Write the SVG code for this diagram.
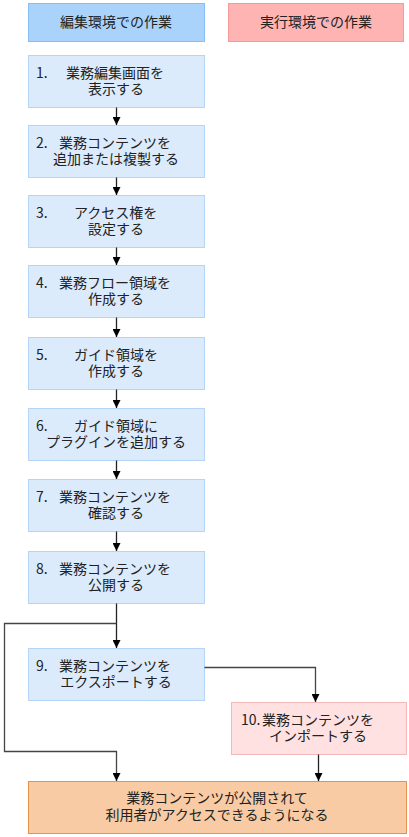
<svg xmlns="http://www.w3.org/2000/svg" width="409" height="837" viewBox="0 0 409 837">
<defs>
<style>
text{font-family:"Noto Sans CJK JP","Noto Sans",sans-serif;font-size:14px;fill:#222}
.c{text-anchor:middle}
.s{text-anchor:start}
.hl{fill:#aad3fc;stroke:#86bdf3;stroke-width:1}
.hr{fill:#ffb4b4;stroke:#f29999;stroke-width:1}
.n{fill:#dcebfc;stroke:#b4d5f6;stroke-width:1}
.p{fill:#ffe1e1;stroke:#f6b9b9;stroke-width:1}
.f{fill:#f9cba5;stroke:#e4924d;stroke-width:1}
.l{fill:none;stroke:#222;stroke-width:1.3}
.g{fill:none;stroke:#444;stroke-width:1.3}
</style>
<marker id="a" viewBox="0 0 10 10" refX="10" refY="5" markerWidth="8" markerHeight="8" markerUnits="userSpaceOnUse" orient="auto">
<path d="M0,0L10,5L0,10z" fill="#000"/>
</marker>
</defs>
<g id="header-edit"><rect class="hl" x="28.5" y="3.5" width="176" height="38"/><text class="c" x="116" y="26.5">編集環境での作業</text></g>
<g id="header-run"><rect class="hr" x="228.5" y="3.5" width="175" height="38"/><text class="c" x="316" y="26.5">実行環境での作業</text></g>
<g id="n1"><rect class="n" x="28.5" y="55.5" width="176" height="52"/><text><tspan class="s" x="36" y="77.5">1.</tspan><tspan class="s" x="66" y="77.5">業務編集画面を</tspan><tspan class="c" x="116" y="94">表示する</tspan></text></g>
<g id="n2"><rect class="n" x="28.5" y="125.5" width="176" height="52"/><text><tspan class="s" x="36" y="147.5">2.</tspan><tspan class="s" x="59" y="147.5">業務コンテンツを</tspan><tspan class="c" x="116" y="164">追加または複製する</tspan></text></g>
<g id="n3"><rect class="n" x="28.5" y="195.5" width="176" height="52"/><text><tspan class="s" x="36" y="217.5">3.</tspan><tspan class="s" x="74" y="217.5">アクセス権を</tspan><tspan class="c" x="116" y="234">設定する</tspan></text></g>
<g id="n4"><rect class="n" x="28.5" y="265.5" width="176" height="52"/><text><tspan class="s" x="36" y="287.5">4.</tspan><tspan class="s" x="59" y="287.5">業務フロー領域を</tspan><tspan class="c" x="116" y="304">作成する</tspan></text></g>
<g id="n5"><rect class="n" x="28.5" y="337.5" width="176" height="52"/><text><tspan class="s" x="36" y="359.5">5.</tspan><tspan class="s" x="74" y="359.5">ガイド領域を</tspan><tspan class="c" x="116" y="376">作成する</tspan></text></g>
<g id="n6"><rect class="n" x="28.5" y="408.5" width="176" height="52"/><text><tspan class="s" x="36" y="430.5">6.</tspan><tspan class="s" x="74" y="430.5">ガイド領域に</tspan><tspan class="c" x="116" y="447">プラグインを追加する</tspan></text></g>
<g id="n7"><rect class="n" x="28.5" y="479.5" width="176" height="52"/><text><tspan class="s" x="36" y="501.5">7.</tspan><tspan class="s" x="59" y="501.5">業務コンテンツを</tspan><tspan class="c" x="116" y="518">確認する</tspan></text></g>
<g id="n8"><rect class="n" x="28.5" y="551.5" width="176" height="52"/><text><tspan class="s" x="36" y="573.5">8.</tspan><tspan class="s" x="59" y="573.5">業務コンテンツを</tspan><tspan class="c" x="116" y="590">公開する</tspan></text></g>
<g id="n9"><rect class="n" x="28.5" y="648.5" width="176" height="52"/><text><tspan class="s" x="36" y="670.5">9.</tspan><tspan class="s" x="59" y="670.5">業務コンテンツを</tspan><tspan class="c" x="116" y="687">エクスポートする</tspan></text></g>
<g id="n10"><rect class="p" x="231.5" y="702.5" width="175" height="52"/><text><tspan class="s" x="241" y="724.5">10.</tspan><tspan class="s" x="262" y="724.5">業務コンテンツを</tspan><tspan class="c" x="318" y="741">インポートする</tspan></text></g>
<g id="result"><rect class="f" x="28.5" y="781.5" width="378" height="52"/><text class="c"><tspan x="217" y="802.5">業務コンテンツが公開されて</tspan><tspan x="217" y="820">利用者がアクセスできるようになる</tspan></text></g>
<g id="connectors">
<path class="l" d="M116.5,107.5V125" marker-end="url(#a)"/>
<path class="l" d="M116.5,177.5V195" marker-end="url(#a)"/>
<path class="l" d="M116.5,247.5V265" marker-end="url(#a)"/>
<path class="l" d="M116.5,317.5V337" marker-end="url(#a)"/>
<path class="l" d="M116.5,389.5V408" marker-end="url(#a)"/>
<path class="l" d="M116.5,460.5V479" marker-end="url(#a)"/>
<path class="l" d="M116.5,531.5V551" marker-end="url(#a)"/>
<path class="l" d="M116.5,603.5V648" marker-end="url(#a)"/>
<path class="g" d="M116.5,623.5H4.5V751.5H116.5V781" marker-end="url(#a)"/>
<path class="g" d="M204.5,667.5H315.5V702" marker-end="url(#a)"/>
<path class="l" d="M318.5,754.5V781" marker-end="url(#a)"/>
</g>
</svg>
